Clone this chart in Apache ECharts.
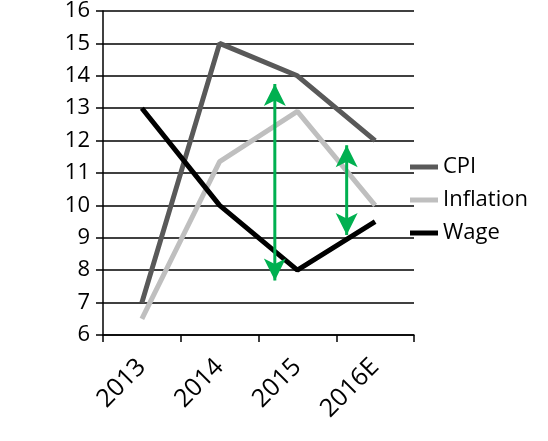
<!DOCTYPE html>
<html><head><meta charset="utf-8">
<script src="https://cdn.jsdelivr.net/npm/echarts@6/dist/echarts.min.js"></script>
<style>html,body{margin:0;padding:0;background:#fff}#c{width:548px;height:441px}</style>
</head><body><div id="c"></div>
<script>
const categories = ['2013', '2014', '2015', '2016E'];
const cpi = [7, 15, 14, 12];
const inflation = [6.5, 11.35, 12.9, 10];
const wage = [13, 10, 8, 9.5];
// green gap arrows: [x position in category units from left edge, top value, bottom value]
const arrow1 = [2.21, 13.75, 7.68];
const arrow2 = [3.134, 11.86, 9.09];
const yTicks = [6, 16, 1];

const font = 'Open Sans';
function arrowSeries(a) {
  return {
    type: 'line', xAxisIndex: 1, silent: true,
    lineStyle: { color: '#00b050', width: 3 },
    itemStyle: { color: '#00b050' },
    symbol: 'arrow', symbolSize: [16.5, 22],
    data: [
      { value: [a[0], a[1]], symbolRotate: 0 },
      { value: [a[0], a[2]], symbolRotate: 180 }
    ],
    z: 5
  };
}
const chart = echarts.init(document.getElementById('c'));
chart.setOption({
  animation: false,
  grid: { left: 103, right: 134, top: 11, bottom: 106 },
  xAxis: [{
    type: 'category', data: categories, boundaryGap: true,
    axisLine: { lineStyle: { color: '#000', width: 1.5 } },
    axisTick: { show: true, length: 7, lineStyle: { color: '#000', width: 1.5 } },
    axisLabel: { rotate: 45, color: '#000', fontFamily: font, fontSize: 25, margin: 28 },
    splitLine: { show: false }
  }, {
    type: 'value', min: 0, max: 4, show: false
  }],
  yAxis: {
    type: 'value', min: yTicks[0], max: yTicks[1], interval: yTicks[2],
    axisLine: { show: true, lineStyle: { color: '#000', width: 1.5 } },
    axisTick: { show: true, length: 7, lineStyle: { color: '#000', width: 1.5 } },
    axisLabel: { color: '#000', fontFamily: font, fontSize: 22, margin: 13 },
    splitLine: { show: true, lineStyle: { color: '#000', width: 1.5 } }
  },
  legend: {
    orient: 'vertical', left: 405, top: 151, itemGap: 11,
    icon: 'rect', itemWidth: 28, itemHeight: 5,
    textStyle: { color: '#000', fontFamily: font, fontSize: 22 },
    data: ['CPI', 'Inflation', 'Wage']
  },
  series: [
    { name: 'CPI', type: 'line', data: cpi, symbol: 'none', lineStyle: { color: '#595959', width: 5 }, itemStyle: { color: '#595959' }, z: 3 },
    { name: 'Inflation', type: 'line', data: inflation, symbol: 'none', lineStyle: { color: '#bfbfbf', width: 5 }, itemStyle: { color: '#bfbfbf' }, z: 2 },
    { name: 'Wage', type: 'line', data: wage, symbol: 'none', lineStyle: { color: '#000', width: 5 }, itemStyle: { color: '#000' }, z: 4 },
    arrowSeries(arrow1),
    arrowSeries(arrow2)
  ]
});
</script></body></html>
